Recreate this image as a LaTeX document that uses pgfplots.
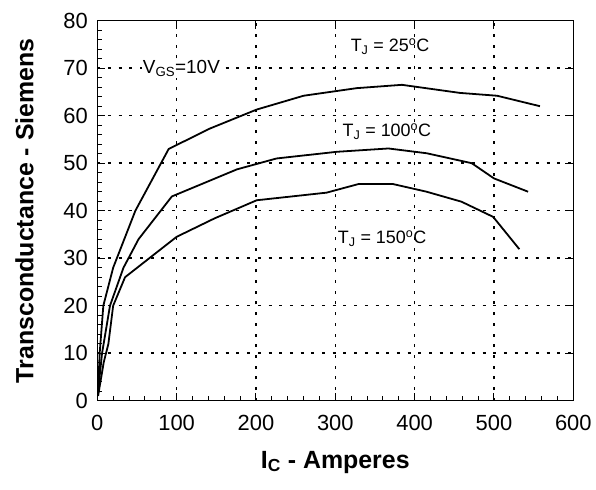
\documentclass[border=0pt]{standalone}
\usepackage{fontspec}
\setmainfont{Liberation Sans}
\usepackage{pgfplots}
\pgfplotsset{compat=1.18}
\begin{document}
\begin{tikzpicture}
\pgfplotsset{
  common/.style={
    scale only axis, width=476bp, height=380bp,
    xmin=0, xmax=600, ymin=0, ymax=80,
    tick align=inside,
    major tick length=8bp, minor tick length=5bp,
    every tick/.style={black, line width=1pt},
    axis line style={line width=1.5pt},
  }
}
\begin{axis}[common,
  xtick={0,100,...,600}, ytick={0,10,...,80},
  minor x tick num=4, minor y tick num=4,
  tick pos=left,
  grid=major,
  major grid style={black, line width=1.5bp, dash pattern=on 3bp off 7.7bp},
  /pgf/number format/assume math mode=true,
  ticklabel style={font=\fontsize{22}{26}\selectfont},
  yticklabel style={xshift=-6bp},
  xticklabel style={yshift=-11bp},
  xlabel={I\textsubscript{C} - Amperes},
  ylabel={Transconductance - Siemens},
  label style={font=\fontsize{25}{30}\selectfont\bfseries},
  xlabel style={at={(axis description cs:0.5,-0.162)}, anchor=center},
  ylabel style={at={(axis description cs:-0.153,0.5)}, anchor=center},
]
% T_J = 25 C
\addplot[black, line width=1.8pt] coordinates {
 (1,2) (3,10) (7.6,20) (20,28) (48,40) (90,53) (142,57.3) (201,61.3)
 (260,64.2) (327,65.8) (384,66.5) (457,64.8) (504,64.2) (558,62)
};
% T_J = 100 C
\addplot[black, line width=1.8pt] coordinates {
 (1,2) (6,10) (16,20) (33,28) (52,34) (94,43) (176,48.7) (226,51)
 (302,52.4) (367,53.1) (415,52.1) (472,50) (500,46.8) (543,44)
};
% T_J = 150 C
\addplot[black, line width=1.8pt] coordinates {
 (1,1) (8,8) (14,12) (20,20) (35,26) (100,34.5) (148,38.4) (201,42.2)
 (289,43.8) (329,45.6) (373,45.6) (415,44) (459,41.9) (499,38.7) (532,31.9)
};
\node[font=\fontsize{19}{22}\selectfont, fill=white, inner sep=1pt] at (axis cs:106,70) {V\textsubscript{GS}=10V};
\node[font=\fontsize{18}{21}\selectfont] at (axis cs:369,74.5) {T\textsubscript{J} = 25\textsuperscript{o}C};
\node[font=\fontsize{18}{21}\selectfont] at (axis cs:365,56.6) {T\textsubscript{J} = 100\textsuperscript{o}C};
\node[font=\fontsize{18}{21}\selectfont] at (axis cs:359,34.2) {T\textsubscript{J} = 150\textsuperscript{o}C};
\end{axis}
\begin{axis}[common,
  xtick={100,200,...,500}, ytick={10,20,...,70},
  tick pos=right,
  xticklabels={}, yticklabels={},
]
\end{axis}
\pgfresetboundingbox
\path (current axis.south west) ++(-97.3bp,-89.3bp) rectangle ++(596bp,490bp);
\end{tikzpicture}
\end{document}
